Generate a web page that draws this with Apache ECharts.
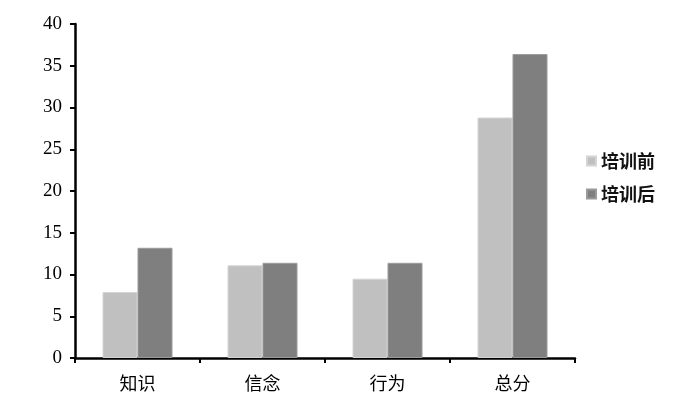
<!DOCTYPE html>
<html><head><meta charset="utf-8">
<script src="https://cdn.jsdelivr.net/npm/echarts@6/dist/echarts.min.js"></script>
<style>html,body{margin:0;padding:0;background:#fff}#c{width:700px;height:409px}</style>
</head><body><div id="c"></div>
<script>
const categories = ['知识', '信念', '行为', '总分'];
const seriesNames = ['培训前', '培训后'];
const beforeValues = [7.9, 11.1, 9.5, 28.8];
const afterValues = [13.2, 11.4, 11.4, 36.4];
const yTicks = [0, 5, 10, 15, 20, 25, 30, 35, 40];

const chart = echarts.init(document.getElementById('c'), null, {renderer: 'canvas'});
chart.setOption({
  animation: false,
  backgroundColor: '#fff',
  grid: {left: 75, right: 125, top: 24, bottom: 51},
  legend: {
    orient: 'vertical', left: 581, top: 147,
    itemWidth: 9, itemHeight: 9, itemGap: 15,
    icon: 'rect',
    textStyle: {fontFamily: 'Noto Sans CJK SC', fontSize: 18, fontWeight: 'bold', color: '#111', lineHeight: 18},
    data: seriesNames
  },
  xAxis: {
    type: 'category', data: categories,
    axisLine: {lineStyle: {color: '#000', width: 2.5}},
    axisTick: {show: true, inside: false, length: 5, lineStyle: {color: '#000', width: 2}},
    axisLabel: {fontFamily: 'Noto Sans CJK SC', fontSize: 18, color: '#000', margin: 16}
  },
  yAxis: {
    type: 'value', min: yTicks[0], max: yTicks[yTicks.length - 1], interval: 5,
    splitLine: {show: false},
    axisLine: {show: true, lineStyle: {color: '#000', width: 2.5}},
    axisTick: {show: true, inside: false, length: 5, lineStyle: {color: '#000', width: 2}},
    axisLabel: {fontFamily: 'Liberation Serif', fontSize: 19, color: '#000', margin: 13}
  },
  series: [
    {name: seriesNames[0], type: 'bar', data: beforeValues, barWidth: 35, barGap: '0%',
     itemStyle: {color: '#c0c0c0', borderColor: '#d4d4d4', borderWidth: 1}},
    {name: seriesNames[1], type: 'bar', data: afterValues, barWidth: 35, barGap: '0%',
     itemStyle: {color: '#7f7f7f', borderColor: '#9a9a9a', borderWidth: 1}}
  ]
});
</script></body></html>
